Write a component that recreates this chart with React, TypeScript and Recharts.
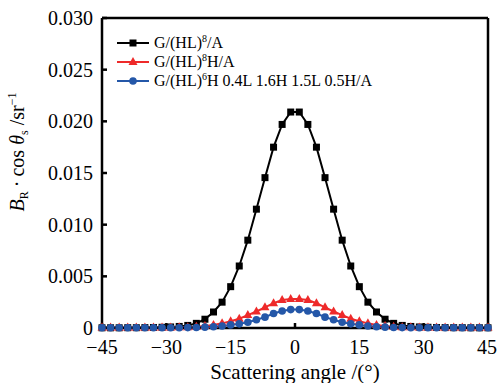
import React from 'react';
import { LineChart, Line, XAxis, YAxis, Legend, ReferenceLine } from 'recharts';

// scattering angle (deg)
const angles = [
  -45, -43, -41, -39, -37, -35, -33, -31, -29, -27, -25, -23, -21, -19, -17, -15, -13, -11, -9, -7, -5, -3, -1,
  1, 3, 5, 7, 9, 11, 13, 15, 17, 19, 21, 23, 25, 27, 29, 31, 33, 35, 37, 39, 41, 43, 45,
];

// G/(HL)8/A
const seriesA = [
  0.00002, 0.00002, 0.00002, 0.00003, 0.00003, 0.00004, 0.00005, 0.00007, 0.0001, 0.00015, 0.00025, 0.00045,
  0.00085, 0.00155, 0.0025, 0.004, 0.006, 0.0085, 0.0115, 0.01455, 0.0175, 0.0197, 0.0209,
  0.0209, 0.0197, 0.0175, 0.01455, 0.0115, 0.0085, 0.006, 0.004, 0.0025, 0.00155, 0.00085, 0.00045, 0.00025,
  0.00015, 0.0001, 0.00007, 0.00005, 0.00004, 0.00003, 0.00003, 0.00002, 0.00002, 0.00002,
];

// G/(HL)8H/A
const seriesB = [
  0.00005, 0.00005, 0.00005, 0.00005, 0.00005, 0.00005, 0.00005, 0.00005, 0.00006, 0.00007, 0.00008, 0.00012,
  0.0002, 0.0003, 0.00045, 0.00065, 0.0009, 0.00125, 0.0016, 0.002, 0.0024, 0.0027, 0.0028,
  0.0028, 0.0027, 0.0024, 0.002, 0.0016, 0.00125, 0.0009, 0.00065, 0.00045, 0.0003, 0.0002, 0.00012, 0.00008,
  0.00007, 0.00006, 0.00005, 0.00005, 0.00005, 0.00005, 0.00005, 0.00005, 0.00005, 0.00005,
];

// G/(HL)6H 0.4L 1.6H 1.5L 0.5H/A
const seriesC = [
  0.00002, 0.00002, 0.00002, 0.00002, 0.00002, 0.00002, 0.00002, 0.00002, 0.00003, 0.00003, 0.00004, 0.00005,
  0.00008, 0.00012, 0.0002, 0.0003, 0.0004, 0.00055, 0.0008, 0.00105, 0.0014, 0.00164, 0.00178,
  0.00178, 0.00164, 0.0014, 0.00105, 0.0008, 0.00055, 0.0004, 0.0003, 0.0002, 0.00012, 0.00008, 0.00005, 0.00004,
  0.00003, 0.00003, 0.00002, 0.00002, 0.00002, 0.00002, 0.00002, 0.00002, 0.00002, 0.00002,
];

const xTicks = [-45, -30, -15, 0, 15, 30, 45];
const yTicks = [0, 0.005, 0.01, 0.015, 0.02, 0.025, 0.03];

const data = angles.map((a, i) => ({ angle: a, a: seriesA[i], b: seriesB[i], c: seriesC[i] }));

const FONT = 'Liberation Serif';
const RED = '#ee2a2a';
const BLUE = '#2457a8';

const Square = (props: any) => {
  const { cx, cy } = props;
  return <rect x={cx - 3.5} y={cy - 3.5} width={7} height={7} fill="#000" />;
};
const Triangle = (props: any) => {
  const { cx, cy } = props;
  return <polygon points={`${cx},${cy - 5} ${cx - 4.5},${cy + 3} ${cx + 4.5},${cy + 3}`} fill={RED} />;
};
const Circle = (props: any) => {
  const { cx, cy } = props;
  return <circle cx={cx} cy={cy} r={3.8} fill={BLUE} />;
};

const supStyle = { fontSize: 10, verticalAlign: 'super', lineHeight: 0 } as const;

const legendItems = [
  { color: '#000', shape: 'square', label: <>G/(HL)<span style={supStyle}>8</span>/A</> },
  { color: RED, shape: 'triangle', label: <>G/(HL)<span style={supStyle}>8</span>H/A</> },
  { color: BLUE, shape: 'circle', label: <>G/(HL)<span style={supStyle}>6</span>H 0.4L 1.6H 1.5L 0.5H/A</> },
];

const LegendBox = () => (
  <div style={{ fontSize: 16, lineHeight: '19px', color: '#000' }}>
    {legendItems.map((it) => (
      <div key={it.shape} style={{ display: 'flex', alignItems: 'center', height: 19 }}>
        <svg width={36} height={12} style={{ marginRight: 1 }}>
          <line x1={0} y1={6} x2={32} y2={6} stroke={it.color} strokeWidth={2} />
          {it.shape === 'square' && <rect x={12.5} y={2.5} width={7} height={7} fill={it.color} />}
          {it.shape === 'triangle' && <polygon points="16,1 11.5,9 20.5,9" fill={it.color} />}
          {it.shape === 'circle' && <circle cx={16} cy={6} r={3.8} fill={it.color} />}
        </svg>
        <span style={{ whiteSpace: 'nowrap' }}>{it.label}</span>
      </div>
    ))}
  </div>
);

const formatY = (v: number) => (v === 0 ? '0' : v.toFixed(3));
const formatX = (v: number) => (v < 0 ? `\u2212${Math.abs(v)}` : `${v}`);

const YTitle = () => (
  <text x={24} y={152} transform="rotate(-90 24 152)" textAnchor="middle" fontSize={20} fill="#000">
    <tspan fontStyle="italic">B</tspan>
    <tspan fontSize={12} dy={4}>R</tspan>
    <tspan dy={-4}>{'\u2009\u00b7\u2009cos '}</tspan>
    <tspan fontStyle="italic">θ</tspan>
    <tspan fontSize={12} dy={4}>s</tspan>
    <tspan dy={-4}>{' /sr'}</tspan>
    <tspan fontSize={12} dy={-8}>{'\u22121'}</tspan>
  </text>
);

const XTitle = () => (
  <text x={295} y={379} textAnchor="middle" fontSize={21} fill="#000">
    Scattering angle /(°)
  </text>
);

export default function App() {
  return (
    <div style={{ width: 497, height: 383, background: '#fff' }}>
      <style>{`body{margin:0} #root, #root *, svg text, svg tspan { font-family: "${FONT}", serif !important; }`}</style>
      <LineChart width={497} height={383} data={data} margin={{ top: 18, right: 9, bottom: 0, left: 0 }}>
        <XAxis
          dataKey="angle"
          type="number"
          domain={[-45, 45]}
          ticks={xTicks}
          tickFormatter={formatX}
          height={55}
          tickSize={-5}
          tickMargin={17}
          stroke="#000"
          strokeWidth={2.5}
          tick={{ fill: '#000', fontSize: 20 }}
          label={{ content: () => <XTitle /> }}
        />
        <YAxis
          type="number"
          domain={[0, 0.03]}
          ticks={yTicks}
          tickFormatter={formatY}
          width={102}
          tickSize={-5}
          tickMargin={14}
          stroke="#000"
          strokeWidth={2.5}
          tick={{ fill: '#000', fontSize: 20 }}
          label={{ content: () => <YTitle /> }}
        />
        <ReferenceLine y={0.03} stroke="#000" strokeWidth={2.5} />
        <ReferenceLine x={45} stroke="#000" strokeWidth={2.5} />
        <Legend
          layout="vertical"
          align="center"
          verticalAlign="middle"
          content={() => <LegendBox />}
          wrapperStyle={{ position: 'absolute', left: 117, top: 33, width: 300, height: 60 }}
        />
        <Line dataKey="a" stroke="#000" strokeWidth={2} dot={<Square />} isAnimationActive={false} />
        <Line dataKey="b" stroke={RED} strokeWidth={2} dot={<Triangle />} isAnimationActive={false} />
        <Line dataKey="c" stroke={BLUE} strokeWidth={2} dot={<Circle />} isAnimationActive={false} />
      </LineChart>
    </div>
  );
}
